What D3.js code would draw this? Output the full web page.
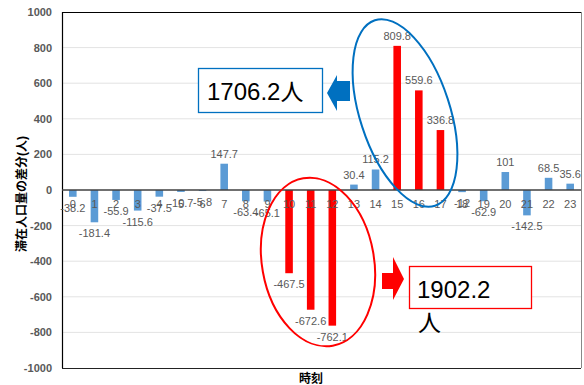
<!DOCTYPE html>
<html>
<head>
<meta charset="utf-8">
<script src="https://cdn.jsdelivr.net/npm/d3@7"></script>
<style>
  html, body { margin: 0; padding: 0; background: #fff; }
  svg { display: block; }
  text { font-family: "Liberation Sans", Arial, "Noto Sans CJK JP", sans-serif; }
</style>
</head>
<body>
<svg id="chart" width="584" height="385"></svg>
<script>
// Hourly difference in resident population (人)
const hours = ["0","1","2","3","4","5","6","7","8","9","10","11","12","13","14","15","16","17","18","19","20","21","22","23"];
const diffValues = [-38.2,-181.4,-55.9,-115.6,-37.5,-10.7,-5.8,147.7,-63.4,-65.1,-467.5,-672.6,-762.1,30.4,115.2,809.8,559.6,336.8,-12,-62.9,101,-142.5,68.5,35.6];
// Hours emphasised in red
const decreaseHours = ["10","11","12"];
const increaseHours = ["15","16","17"];
const yTicks = [1000,800,600,400,200,0,-200,-400,-600,-800,-1000];

const increaseTotal = d3.sum(increaseHours, h => diffValues[hours.indexOf(h)]);
const decreaseTotal = -d3.sum(decreaseHours, h => diffValues[hours.indexOf(h)]);

// plain ASCII hyphen for negatives
const plain = v => String(v);

const svg = d3.select("#chart");
const plot = { left: 62, right: 581, top: 12, bottom: 368 };

const x = d3.scaleBand().domain(hours).range([plot.left, plot.right])
  .paddingInner(0.65).paddingOuter(0.325);
const y = d3.scaleLinear().domain([-1000, 1000]).range([plot.bottom, plot.top]);

// gridlines
svg.append("g").selectAll("line").data(yTicks.filter(t => Math.abs(t) !== 1000 && t !== 0))
  .join("line")
  .attr("x1", plot.left).attr("x2", plot.right)
  .attr("y1", d => y(d)).attr("y2", d => y(d))
  .attr("stroke", "#e3e3e3").attr("stroke-width", 1);

// y axis tick labels
const yAxis = d3.axisLeft(y).tickValues(yTicks).tickFormat(plain).tickSize(0).tickPadding(10);
const yg = svg.append("g").attr("transform", `translate(${plot.left},0)`).call(yAxis);
yg.select(".domain").remove();
yg.selectAll("text").attr("fill", "#595959").attr("font-size", 11).attr("font-weight", "bold")
  .attr("font-family", "Liberation Sans, Arial, sans-serif");

// plot frame
svg.append("line").attr("x1", plot.left).attr("x2", plot.right).attr("y1", plot.top + 0.5).attr("y2", plot.top + 0.5)
  .attr("stroke", "#000").attr("stroke-width", 1.2);
svg.append("line").attr("x1", plot.left).attr("x2", plot.right).attr("y1", plot.bottom + 0.5).attr("y2", plot.bottom + 0.5)
  .attr("stroke", "#222").attr("stroke-width", 1.2);
svg.append("line").attr("x1", plot.left + 0.5).attr("x2", plot.left + 0.5).attr("y1", plot.top).attr("y2", plot.bottom)
  .attr("stroke", "#000").attr("stroke-width", 1.2);
svg.append("line").attr("x1", plot.right + 0.5).attr("x2", plot.right + 0.5).attr("y1", plot.top).attr("y2", plot.bottom)
  .attr("stroke", "#888").attr("stroke-width", 1);

const highlighted = new Set([...decreaseHours, ...increaseHours]);
const data = hours.map((h, i) => ({ h, v: diffValues[i] }));

// bars
svg.append("g").selectAll("rect").data(data).join("rect")
  .attr("x", d => x(d.h))
  .attr("width", x.bandwidth())
  .attr("y", d => Math.min(y(d.v), y(0)))
  .attr("height", d => Math.abs(y(d.v) - y(0)))
  .attr("fill", d => highlighted.has(d.h) ? "#ff0000" : "#5b9bd5");

// zero line
svg.append("line").attr("x1", plot.left).attr("x2", plot.right).attr("y1", y(0)).attr("y2", y(0))
  .attr("stroke", "#404040").attr("stroke-width", 1.3);

// category labels just below the zero line
const xAxis = d3.axisBottom(x).tickSize(0).tickPadding(10);
const xg = svg.append("g").attr("transform", `translate(0,${y(0)})`).call(xAxis);
xg.select(".domain").remove();
xg.selectAll("text").attr("fill", "#595959").attr("font-size", 11)
  .attr("font-family", "Liberation Sans, Arial, sans-serif");

// value labels
svg.append("g").selectAll("text").data(data).join("text")
  .attr("x", d => x(d.h) + x.bandwidth() / 2)
  .attr("y", d => d.v >= 0 ? y(d.v) - 6 : y(d.v) + 15)
  .attr("text-anchor", "middle")
  .attr("font-size", 11)
  .attr("fill", "#595959")
  .text(d => plain(d.v));

// axis titles
svg.append("text")
  .attr("transform", `translate(26,${y(0) + 4}) rotate(-90)`)
  .attr("text-anchor", "middle")
  .attr("font-size", 12).attr("font-weight", "bold").attr("fill", "#000")
  .attr("font-family", "Noto Sans CJK JP, sans-serif")
  .text("滞在人口量の差分(人)");
svg.append("text")
  .attr("x", 311).attr("y", 383)
  .attr("text-anchor", "middle")
  .attr("font-size", 12).attr("font-weight", "bold").attr("fill", "#000")
  .attr("font-family", "Noto Sans CJK JP, sans-serif")
  .text("時刻");

// annotation: afternoon increase
svg.append("ellipse")
  .attr("cx", 0).attr("cy", 0).attr("rx", 45).attr("ry", 97.5)
  .attr("transform", "translate(405,113) rotate(-18)")
  .attr("fill", "none").attr("stroke", "#0070c0").attr("stroke-width", 2);
svg.append("path")
  .attr("d", "M327,93 L337,75 L337,81 L350,81 L350,101 L337,101 L337,111 Z")
  .attr("fill", "#0070c0");
svg.append("rect").attr("x", 198.5).attr("y", 68.5).attr("width", 124).attr("height", 44)
  .attr("fill", "#fff").attr("stroke", "#0070c0").attr("stroke-width", 1.3);
const incText = svg.append("text").attr("x", 207).attr("y", 100)
  .attr("font-size", 24).attr("fill", "#000");
incText.append("tspan").text(d3.format(".1f")(increaseTotal));
incText.append("tspan").attr("font-family", "Noto Sans CJK JP, sans-serif").attr("font-size", 23).text("人");

// annotation: midday decrease
svg.append("ellipse")
  .attr("cx", 0).attr("cy", 0).attr("rx", 56).attr("ry", 85)
  .attr("transform", "translate(318,262) rotate(-10)")
  .attr("fill", "none").attr("stroke", "#ff0000").attr("stroke-width", 2);
svg.append("path")
  .attr("d", "M382,273 L393,273 L393,257 L404,279 L393,300 L393,289 L382,289 Z")
  .attr("fill", "#ff0000");
svg.append("rect").attr("x", 409.5).attr("y", 266.5).attr("width", 122).attr("height", 42)
  .attr("fill", "#fff").attr("stroke", "#ff0000").attr("stroke-width", 1.3);
svg.append("text").attr("x", 417).attr("y", 298)
  .attr("font-size", 24).attr("fill", "#000")
  .text(d3.format(".1f")(decreaseTotal));
svg.append("text").attr("x", 418).attr("y", 331)
  .attr("font-size", 23).attr("fill", "#000")
  .attr("font-family", "Noto Sans CJK JP, sans-serif")
  .text("人");
</script>
</body>
</html>
